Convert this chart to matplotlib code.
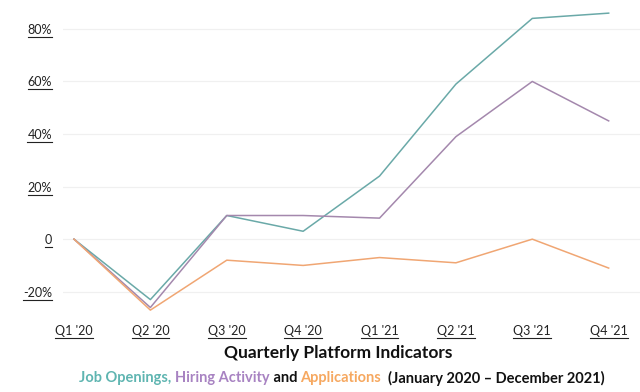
import matplotlib
matplotlib.use("Agg")
import matplotlib.pyplot as plt
from matplotlib.lines import Line2D

quarters = ["Q1 '20", "Q2 '20", "Q3 '20", "Q4 '20", "Q1 '21", "Q2 '21", "Q3 '21", "Q4 '21"]
job_openings = [0, -23, 9, 3, 24, 59, 84, 86]
hiring_activity = [0, -26, 9, 9, 8, 39, 60, 45]
applications = [0, -27, -8, -10, -7, -9, 0, -11]
yticks = [-20, 0, 20, 40, 60, 80]
ytick_labels = ["-20%", "0", "20%", "40%", "60%", "80%"]

C_JOB = "#6aa9a8"
C_HIRE = "#a488ad"
C_APP = "#f0a673"
T_JOB = "#5fb5b1"
T_HIRE = "#a883c2"
T_APP = "#f6a860"

plt.rcParams['font.family'] = ['Lato', 'DejaVu Sans']

fig = plt.figure(figsize=(6.4, 3.92), dpi=100)
ax = fig.add_axes([63/640, 1-318/392, 577/640, 318/392])

x = list(range(len(quarters)))
ax.plot(x, job_openings, color=C_JOB, lw=1.1)
ax.plot(x, hiring_activity, color=C_HIRE, lw=1.1)
ax.plot(x, applications, color=C_APP, lw=1.1)

ax.set_xlim(-0.144, 7.41)
ax.set_ylim(-30, 91)
ax.set_yticks(yticks)
ax.set_yticklabels(ytick_labels)
ax.set_xticks(x)
ax.set_xticklabels(quarters)
ax.grid(axis='y', color='#f0f0f0', lw=0.9)
ax.set_axisbelow(True)
for s in ax.spines.values():
    s.set_visible(False)
ax.tick_params(axis='both', length=0, labelsize=9, colors='#222222')
ax.tick_params(axis='y', pad=8)
ax.tick_params(axis='x', pad=5)

fig.text(338/640, 1-353/392, "Quarterly Platform Indicators", ha='center', va='center',
         fontsize=12.5, fontweight='bold', color='#111111')

# multicolour subtitle
parts = [("Job Openings, ", T_JOB), ("Hiring Activity", T_HIRE), (" and ", '#111111'),
         ("Applications", T_APP), ("  (January 2020 \u2013 December 2021)", '#111111')]
fig.canvas.draw()
renderer = fig.canvas.get_renderer()
texts = []
xpos = 0.0
for s, c in parts:
    t = fig.text(xpos, 1-378/392, s, ha='left', va='center', fontsize=10.5,
                 fontweight='bold', color=c)
    texts.append(t)
    bb = t.get_window_extent(renderer)
    xpos += bb.width / fig.bbox.width
total = xpos
start = 342/640 - total/2
xpos = start
for t in texts:
    t.set_x(xpos)
    xpos += t.get_window_extent(renderer).width / fig.bbox.width

# underline tick labels
fig.canvas.draw()
for lab in ax.get_xticklabels() + ax.get_yticklabels():
    bb = lab.get_window_extent(renderer)
    y0 = (bb.y0 - 1) / fig.bbox.height
    fig.add_artist(Line2D([bb.x0 / fig.bbox.width, bb.x1 / fig.bbox.width], [y0, y0],
                          color='#222222', lw=0.8))

fig.savefig("out.png", dpi=100)
